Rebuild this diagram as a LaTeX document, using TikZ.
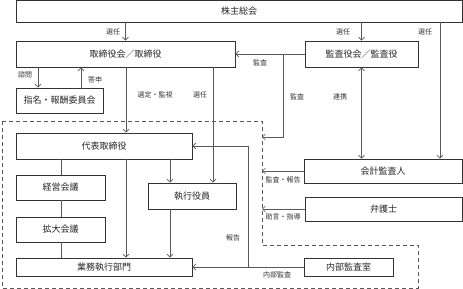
\documentclass[tikz,border=0pt]{standalone}
\usepackage{fontspec}
\setmainfont{Noto Sans CJK JP}
\usetikzlibrary{arrows.meta,shadows}

\tikzset{
  box/.style={draw=black!80, fill=white, line width=0.6pt, inner sep=0pt,
    text=black!85, font=\fontsize{9}{9}\selectfont,
    general shadow={fill=black!55, shadow xshift=0.7pt, shadow yshift=-0.7pt}},
  lbl/.style={font=\fontsize{7}{7}\selectfont, inner sep=0pt, text=black!80},
  conn/.style={draw=black!65, line width=0.7pt},
  >={Straight Barb[length=3pt,width=6pt]}
}

\begin{document}
\begin{tikzpicture}[x=1pt,y=-1pt]
\useasboundingbox (0,0) rectangle (463,289);
% outline of the executive side
\draw[conn, dash pattern=on 4pt off 3pt] (2,121) -- (262,121) -- (262,245) -- (418,245) -- (418,288) -- (2,288) -- cycle;
% boxes
\node[box, minimum width=446pt, minimum height=22pt] (soukai) at (239,11) {株主総会};
\node[box, minimum width=219pt, minimum height=26pt] (torishimari) at (125.5,54) {取締役会／取締役};
\node[box, minimum width=113pt, minimum height=26pt] (kansa) at (361.5,54) {監査役会／監査役};
\node[box, minimum width=87pt, minimum height=25pt] (shimei) at (59.5,100.5) {指名・報酬委員会};
\node[box, minimum width=176pt, minimum height=26pt] (daihyo) at (104,146) {代表取締役};
\node[box, minimum width=89pt, minimum height=25pt] (keiei) at (60.5,187.5) {経営会議};
\node[box, minimum width=89pt, minimum height=25pt] (kakudai) at (60.5,229.5) {拡大会議};
\node[box, minimum width=88pt, minimum height=26pt] (shikko) at (192,196) {執行役員};
\node[box, minimum width=176pt, minimum height=18pt] (gyomu) at (104,267) {業務執行部門};
\node[box, minimum width=158pt, minimum height=24pt] (kaikei) at (383,171) {会計監査人};
\node[box, minimum width=157pt, minimum height=24pt] (bengo) at (383.5,209) {弁護士};
\node[box, minimum width=89pt, minimum height=18pt] (naibu) at (348.5,267) {内部監査室};
% free ends on the dashed outline
\coordinate (d1) at (262,137);
\coordinate (d2) at (262,171);
\coordinate (d3) at (262,209);
\coordinate (k1) at (283,54);
\coordinate (s3) at (440,22);
\coordinate (h1) at (248,267);
% shareholders
\draw[conn,->] (soukai.south -| torishimari) -- (torishimari.north);
\draw[conn,->] (soukai.south -| kansa) -- (kansa.north);
\draw[conn,->] (s3) -- (kaikei.north -| s3);
\node[lbl] (l1) at (113,32) {選任};
\node[lbl] (l2) at (343,32) {選任};
\node[lbl] (l3) at (425,32) {選任};
% auditors
\draw[conn,->] (kansa.west) -- (torishimari.east);
\draw[conn,->] (k1) |- (d1);
\draw[conn,<->] (kansa.south) -- (kaikei.north -| kansa);
\node[lbl] (l4) at (260,63) {監査};
\node[lbl] (l5) at (297,97) {監査};
\node[lbl] (l6) at (340,97) {連携};
% board
\draw[conn,->] (torishimari.south -| 38,0) -- (shimei.north -| 38,0);
\draw[conn,->] (shimei.north -| 81,0) -- (torishimari.south -| 81,0);
\draw[conn,->] (torishimari.south -| 126,0) -- (daihyo.north -| 126,0);
\draw[conn,->] (torishimari.south -| 213,0) -- (shikko.north -| 213,0);
\node[lbl] (l7) at (25,75) {諮問};
\node[lbl] (l8) at (95,80) {答申};
\node[lbl] (l9) at (155,95) {選定・監視};
\node[lbl] (l10) at (200,95) {選任};
% executive side
\draw[conn] (daihyo.south -| 61,0) -- (keiei.north -| 61,0);
\draw[conn] (keiei.south -| 61,0) -- (kakudai.north -| 61,0);
\draw[conn] (kakudai.south -| 61,0) -- (gyomu.north -| 61,0);
\draw[conn,->] (daihyo.south -| 126,0) -- (gyomu.north -| 126,0);
\draw[conn,->] (daihyo.south -| 170,0) -- (shikko.north -| 170,0);
\draw[conn,->] (shikko.south -| 170,0) -- (gyomu.north -| 170,0);
% internal audit
\draw[conn,->] (naibu.west) -- (gyomu.east);
\draw[conn,->] (h1) |- (daihyo.east);
\node[lbl] (l11) at (233,238) {報告};
\node[lbl] (l12) at (277,275) {内部監査};
% outside experts
\draw[conn,->] (kaikei.west) -- (d2);
\draw[conn,->] (bengo.west) -- (d3);
\node[lbl] (l13) at (283,180) {監査・報告};
\node[lbl] (l14) at (283,217) {助言・指導};
\end{tikzpicture}
\end{document}
